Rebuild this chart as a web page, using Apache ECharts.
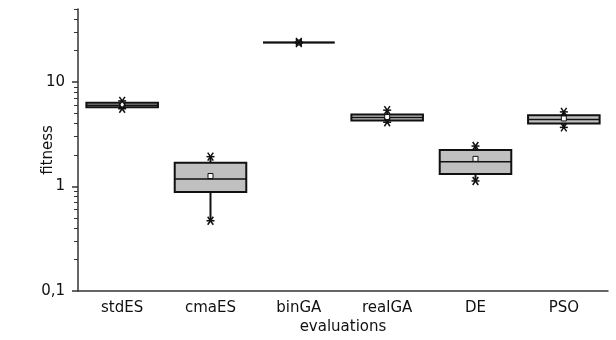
<!DOCTYPE html>
<html>
<head>
<meta charset="utf-8">
<script src="https://cdn.jsdelivr.net/npm/echarts@6/dist/echarts.min.js"></script>
<style>
html,body{margin:0;padding:0;background:#fff;}
#chart{width:616px;height:340px;}
</style>
</head>
<body>
<div id="chart"></div>
<script>
// boxplot stats (log axis)
var categories = ['stdES', 'cmaES', 'binGA', 'realGA', 'DE', 'PSO'];
var minVals    = [5.55, 0.47, 23.6, 4.12, 1.13, 3.68];
var q1Vals     = [5.74, 0.885, 23.9, 4.29, 1.32, 4.02];
var medVals    = [6.0, 1.18, 23.9, 4.58, 1.73, 4.38];
var q3Vals     = [6.35, 1.69, 23.9, 4.89, 2.24, 4.82];
var maxVals    = [6.6, 1.93, 24.2, 5.38, 2.44, 5.18];
var meanVals   = [6.1, 1.26, 23.9, 4.62, 1.84, 4.48];
// tick values
var majorTicks = [0.1, 1, 10];
var majorLabels = ['0,1', '1', '10'];
var minorTicks = [0.2, 0.3, 0.4, 0.5, 0.6, 0.7, 0.8, 0.9, 2, 3, 4, 5, 6, 7, 8, 9, 20, 30, 40, 50];

var font = 'DejaVu Sans';
var ink = '#111';

var boxData = categories.map(function (c, i) {
	return [i, minVals[i], q1Vals[i], medVals[i], q3Vals[i], maxVals[i], meanVals[i]];
});

//asterisk marker
function star(cx, cy, r) {
	var s = {stroke: ink, lineWidth: 1.5};
	return [
		{type: 'line', shape: {x1: cx - r, y1: cy, x2: cx + r, y2: cy}, style: s},
		{type: 'line', shape: {x1: cx - r * 0.7, y1: cy - r, x2: cx + r * 0.7, y2: cy + r}, style: s},
		{type: 'line', shape: {x1: cx - r * 0.7, y1: cy + r, x2: cx + r * 0.7, y2: cy - r}, style: s}
	];
}

function renderBox(params, api) {
	var idx = api.value(0);
	var pMin = api.coord([idx, api.value(1)]);
	var pQ1 = api.coord([idx, api.value(2)]);
	var pMed = api.coord([idx, api.value(3)]);
	var pQ3 = api.coord([idx, api.value(4)]);
	var pMax = api.coord([idx, api.value(5)]);
	var pMean = api.coord([idx, api.value(6)]);
	var w = api.size([1, 0])[0] * 0.81;
	var x = pMed[0];
	var children = [
		{type: 'line', shape: {x1: x, y1: pMax[1], x2: x, y2: pQ3[1]}, style: {stroke: ink, lineWidth: 2}},
		{type: 'line', shape: {x1: x, y1: pQ1[1], x2: x, y2: pMin[1]}, style: {stroke: ink, lineWidth: 2}},
		{type: 'rect', shape: {x: x - w / 2, y: pQ3[1], width: w, height: pQ1[1] - pQ3[1]},
			style: {fill: '#c0c0c0', stroke: ink, lineWidth: 2}},
		{type: 'line', shape: {x1: x - w / 2, y1: pMed[1], x2: x + w / 2, y2: pMed[1]}, style: {stroke: ink, lineWidth: 1.5}},
		{type: 'rect', shape: {x: pMean[0] - 2.5, y: pMean[1] - 2.5, width: 5, height: 5},
			style: {fill: '#fff', stroke: ink, lineWidth: 1}}
	];
	children = children.concat(star(x, pMax[1], 4), star(x, pMin[1], 4));
	return {type: 'group', children: children};
}

var chart = echarts.init(document.getElementById('chart'));
chart.setOption({
	animation: false,
	grid: {left: 78, right: 8, top: 9, bottom: 47},
	xAxis: {
		type: 'category',
		data: categories,
		name: 'evaluations',
		nameLocation: 'middle',
		nameGap: 29,
		nameMoveOverlap: false,
		nameTextStyle: {fontFamily: font, fontSize: 15, color: ink},
		axisLine: {lineStyle: {color: '#333', width: 1.5}},
		axisTick: {alignWithLabel: true, length: 5, lineStyle: {color: '#333', width: 1.5}},
		axisLabel: {fontFamily: font, fontSize: 15, color: ink, margin: 10}
	},
	yAxis: [{
		type: 'log',
		min: 0.1,
		max: 50,
		name: 'fitness',
		nameLocation: 'middle',
		nameGap: 22,
		nameMoveOverlap: false,
		nameTextStyle: {fontFamily: font, fontSize: 15, color: ink},
		axisLine: {show: true, lineStyle: {color: '#333', width: 1.5}},
		axisTick: {show: true, length: 6, customValues: majorTicks, lineStyle: {color: '#333', width: 1.5}},
		axisLabel: {
			fontFamily: font, fontSize: 15, color: ink, margin: 13,
			customValues: majorTicks,
			formatter: function (v) {
				var i = majorTicks.indexOf(+v);
				return i >= 0 ? majorLabels[i] : '';
			}
		},
		splitLine: {show: false}
	}, {
		type: 'log',
		min: 0.1,
		max: 50,
		position: 'left',
		axisLine: {show: false},
		axisTick: {show: true, length: 4, customValues: minorTicks, lineStyle: {color: '#333', width: 1}},
		axisLabel: {show: false},
		splitLine: {show: false}
	}],
	series: [{
		type: 'custom',
		renderItem: renderBox,
		encode: {x: 0, y: [1, 2, 3, 4, 5]},
		data: boxData,
		z: 10
	}]
});
</script>
</body>
</html>
